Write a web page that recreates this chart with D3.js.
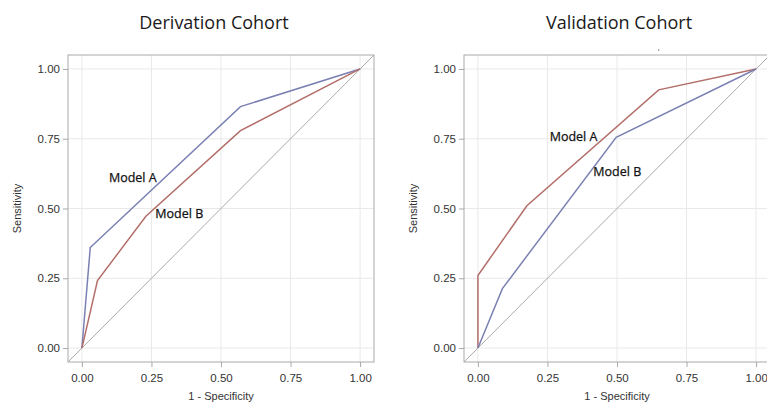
<!DOCTYPE html>
<html>
<head>
<meta charset="utf-8">
<script src="https://cdn.jsdelivr.net/npm/d3@7"></script>
<style>
body{margin:0;background:#fff;}
svg{display:block;}
</style>
</head>
<body>
<svg id="chart" width="767" height="402"></svg>
<script>
// ---- data ----
const ticks = [0, 0.25, 0.5, 0.75, 1];
const tickLabels = ["0.00", "0.25", "0.50", "0.75", "1.00"];
const panelTitles = ["Derivation Cohort", "Validation Cohort"];
const seriesNames = ["Model A", "Model B"];

const derivA_x = [0, 0.03, 0.57, 1];
const derivA_y = [0, 0.36, 0.865, 1];
const derivB_x = [0, 0.056, 0.23, 0.57, 1];
const derivB_y = [0, 0.242, 0.472, 0.779, 1];

const validA_x = [0, 0, 0.176, 0.65, 1];
const validA_y = [0, 0.26, 0.51, 0.925, 1];
const validB_x = [0, 0.088, 0.497, 1];
const validB_y = [0, 0.213, 0.755, 1];

const blue = "#7b80b3", red = "#b36e69";

const svg = d3.select("#chart");

function zip(xs, ys){ return xs.map((x,i)=>({x, y: ys[i]})); }

function panel(opt){
  const x = d3.scaleLinear().domain([-0.05, 1.05]).range([opt.left, opt.left + 306]);
  const y = d3.scaleLinear().domain([-0.05, 1.05]).range([362, 55]);
  const g = svg.append("g");

  // grid
  g.selectAll(".gx").data(ticks).join("line")
    .attr("x1", d=>x(d)).attr("x2", d=>x(d)).attr("y1", y(1.05)).attr("y2", y(-0.05))
    .attr("stroke", "#e9e9e9").attr("stroke-width", 1);
  g.selectAll(".gy").data(ticks).join("line")
    .attr("y1", d=>y(d)).attr("y2", d=>y(d)).attr("x1", x(-0.05)).attr("x2", x(1.05))
    .attr("stroke", "#e9e9e9").attr("stroke-width", 1);

  // diagonal reference
  g.append("line")
    .attr("x1", x(-0.05)).attr("y1", y(-0.05)).attr("x2", x(1.05)).attr("y2", y(1.05))
    .attr("stroke", "#aaaaaa").attr("stroke-width", 1);

  const line = d3.line().x(d=>x(d.x)).y(d=>y(d.y));
  opt.series.forEach(s=>{
    g.append("path").datum(s.data).attr("d", line)
      .attr("fill", "none").attr("stroke", s.color).attr("stroke-width", 1.5);
  });

  // frame
  g.append("rect").attr("x", x(-0.05)).attr("y", y(1.05))
    .attr("width", x(1.05)-x(-0.05)).attr("height", y(-0.05)-y(1.05))
    .attr("fill", "none").attr("stroke", "#a9a9a9").attr("stroke-width", 1);

  // axes
  const xa = g.append("g").attr("transform", `translate(0,${y(-0.05)})`)
    .call(d3.axisBottom(x).tickValues(ticks).tickFormat((d,i)=>tickLabels[i]).tickSize(5).tickPadding(7));
  const ya = g.append("g").attr("transform", `translate(${x(-0.05)},0)`)
    .call(d3.axisLeft(y).tickValues(ticks).tickFormat((d,i)=>tickLabels[i]).tickSize(5).tickPadding(3));
  [xa, ya].forEach(a=>{
    a.select(".domain").remove();
    a.selectAll(".tick line").attr("stroke", "#a9a9a9");
    a.selectAll(".tick text").attr("fill", "#333")
      .style("font-family", "Liberation Sans, Arial, sans-serif").style("font-size", "11.5px");
  });

  g.append("text").attr("x", x(0.5)).attr("y", 400).attr("text-anchor", "middle")
    .style("font-family", "Liberation Sans, Arial, sans-serif").style("font-size", "11px")
    .attr("fill", "#333").text("1 - Specificity");
  g.append("text").attr("transform", `translate(${opt.left-47},${y(0.5)}) rotate(-90)`)
    .attr("text-anchor", "middle")
    .style("font-family", "Liberation Sans, Arial, sans-serif").style("font-size", "11px")
    .attr("fill", "#333").text("Sensitivity");

  g.append("text").attr("x", opt.titleX).attr("y", 29).attr("text-anchor", "middle")
    .style("font-family", "Open Sans, sans-serif").style("font-size", "18px")
    .attr("fill", "#1a1a1a").text(opt.title);

  opt.labels.forEach(l=>{
    g.append("text").attr("x", x(l.x)).attr("y", y(l.y))
      .style("font-family", "Open Sans, sans-serif").style("font-size", "12.5px")
      .attr("fill", "#111").attr("stroke", "#111").attr("stroke-width", 0.25).text(l.text);
  });
  return {x, y, g};
}

panel({
  left: 68, titleX: 214, title: panelTitles[0],
  series: [
    {color: blue, data: zip(derivA_x, derivA_y)},
    {color: red, data: zip(derivB_x, derivB_y)}
  ],
  labels: [
    {text: seriesNames[0], x: 0.097, y: 0.595},
    {text: seriesNames[1], x: 0.264, y: 0.465}
  ]
});

const p2 = panel({
  left: 464, titleX: 619, title: panelTitles[1],
  series: [
    {color: red, data: zip(validA_x, validA_y)},
    {color: blue, data: zip(validB_x, validB_y)}
  ],
  labels: [
    {text: seriesNames[0], x: 0.258, y: 0.742},
    {text: seriesNames[1], x: 0.415, y: 0.618}
  ]
});
p2.g.append("circle").attr("cx", p2.x(0.65)).attr("cy", 50).attr("r", 0.8).attr("fill", "#777");
</script>
</body>
</html>
